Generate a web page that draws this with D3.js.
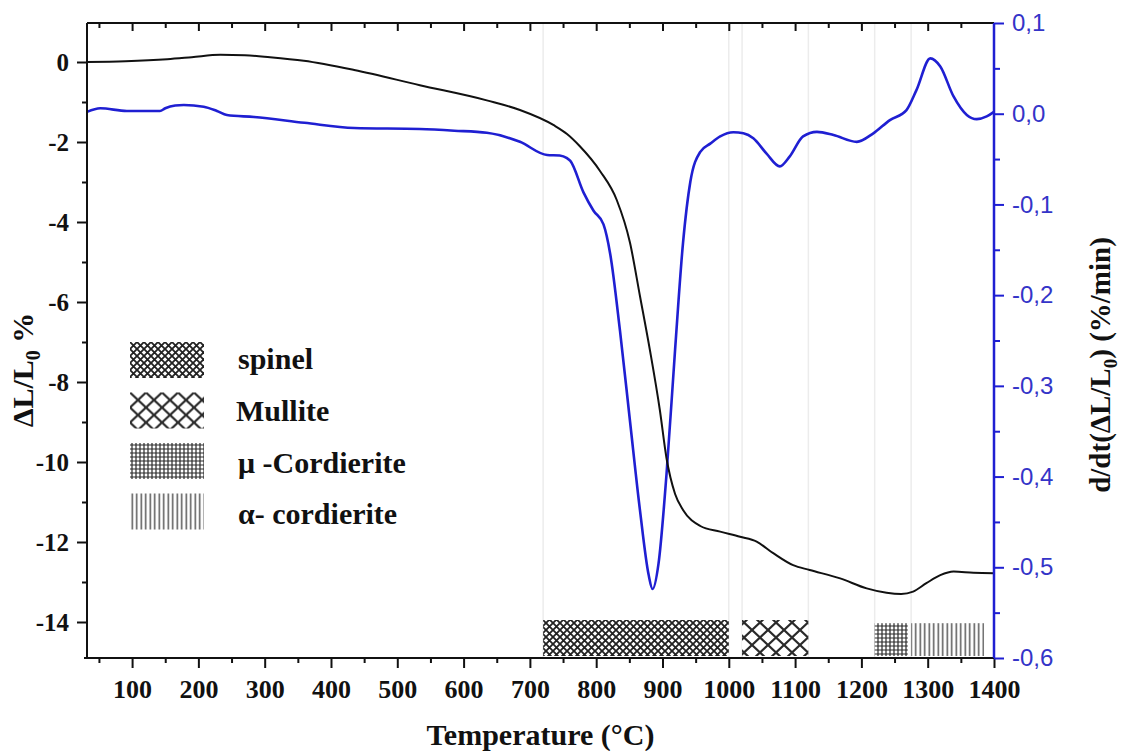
<!DOCTYPE html>
<html>
<head>
<meta charset="utf-8">
<script src="https://cdn.jsdelivr.net/npm/d3@7"></script>
<style>
  body { margin: 0; background: #fff; }
  svg text { font-family: "Liberation Serif", "Times New Roman", serif; font-weight: bold; }
</style>
</head>
<body>
<div id="chart"></div>
<script>
// dilatometry: relative shrinkage dL/L0 (%) vs temperature
const shrinkTemp = [32, 90, 153, 190, 233, 270, 308, 359, 435, 534, 635, 685, 736, 756, 775, 806, 831, 851, 866, 881, 896, 906, 919, 931, 957, 987, 1017, 1042, 1067, 1097, 1122, 1168, 1208, 1238, 1260, 1278, 1298, 1319, 1339, 1369, 1400];
const shrinkVal  = [0, 0.02, 0.07, 0.12, 0.18, 0.17, 0.12, 0.03, -0.2, -0.58, -0.96, -1.2, -1.58, -1.8, -2.1, -2.73, -3.45, -4.52, -5.85, -7.2, -8.7, -9.9, -10.8, -11.2, -11.6, -11.74, -11.87, -11.99, -12.28, -12.58, -12.7, -12.91, -13.16, -13.27, -13.3, -13.24, -13.03, -12.83, -12.74, -12.77, -12.78];

// shrinkage rate d/dt(dL/L0) (%/min)
const rateTemp = [32, 52, 92, 142, 150, 165, 178, 208, 228, 243, 284, 360, 435, 534, 586, 635, 685, 726, 745, 756, 761, 781, 796, 811, 821, 836, 851, 866, 879, 885, 894, 906, 919, 931, 942, 957, 972, 987, 1007, 1022, 1037, 1057, 1077, 1092, 1112, 1133, 1158, 1193, 1218, 1243, 1268, 1283, 1304, 1319, 1339, 1359, 1374, 1389, 1400];
const rateVal  = [0.002, 0.006, 0.003, 0.003, 0.006, 0.009, 0.0096, 0.0077, 0.003, -0.0014, -0.0036, -0.01, -0.0158, -0.0169, -0.0187, -0.021, -0.031, -0.0455, -0.046, -0.049, -0.052, -0.087, -0.107, -0.122, -0.154, -0.24, -0.339, -0.437, -0.508, -0.524, -0.496, -0.398, -0.26, -0.142, -0.075, -0.042, -0.033, -0.025, -0.0205, -0.0216, -0.027, -0.044, -0.058, -0.047, -0.025, -0.02, -0.0235, -0.031, -0.0216, -0.007, 0.004, 0.026, 0.061, 0.052, 0.019, -0.0014, -0.006, -0.003, 0.002];

// crystalline phases (temperature ranges)
const phaseNames = ["spinel", "Mullite", "μ -Cordierite", "α- cordierite"];
const phaseIds = ["spinel", "mullite", "muCord", "alphaCord"];
const phaseStart = [720, 1020, 1220, 1275];
const phaseEnd = [1000, 1120, 1270, 1385];
const guideTemps = [720, 1000, 1020, 1120, 1220, 1275];

const xTicks = d3.range(100, 1401, 100);
const xMinor = d3.range(50, 1400, 100);
const leftTicks = d3.range(0, -15, -2);
const leftMinor = d3.range(-1, -15, -2);
const rightTicks = d3.range(-6, 2).map(d => d / 10);
const rightMinor = d3.range(-11, 2, 2).map(d => d / 20);

const width = 1121, height = 751;
const margin = { top: 23, right: 127, bottom: 93, left: 87 };
const blue = "#1f1fd2";

const svg = d3.select("#chart").append("svg")
    .attr("width", width)
    .attr("height", height)
    .style("background", "#fff");

const x = d3.scaleLinear().domain([32, 1400]).range([margin.left, width - margin.right]);
const yL = d3.scaleLinear().domain([-14.9, 0.975]).range([height - margin.bottom, margin.top]);
const yR = d3.scaleLinear().domain([-0.6, 0.1]).range([height - margin.bottom, margin.top]);

const x0 = margin.left, x1 = width - margin.right;
const y0 = margin.top, y1 = height - margin.bottom;

// hatch patterns
const defs = svg.append("defs");
function addPattern(id, w, h, d, stroke, sw) {
    const p = defs.append("pattern")
        .attr("id", id)
        .attr("patternUnits", "userSpaceOnUse")
        .attr("width", w)
        .attr("height", h);
    p.append("rect").attr("width", w).attr("height", h).attr("fill", "#fff");
    p.append("path").attr("d", d).attr("fill", "none")
        .attr("stroke", stroke).attr("stroke-width", sw);
}
addPattern("spinel", 7, 7, "M-1,-1L8,8M8,-1L-1,8", "#222", 1.8);
addPattern("mullite", 16, 15, "M-2,-1.875L18,16.875M18,-1.875L-2,16.875", "#2a2a2a", 2.2);
addPattern("muCord", 4, 4, "M0,2H4M2,0V4", "#2a2a2a", 1.2);
addPattern("alphaCord", 4.5, 10, "M2.25,0V10", "#555", 1.5);

// faint vertical guides
svg.append("g")
    .selectAll("line")
    .data(guideTemps)
    .join("line")
    .attr("x1", d => x(d)).attr("x2", d => x(d))
    .attr("y1", y0).attr("y2", y1)
    .attr("stroke", "#ececec")
    .attr("stroke-width", 1.5);

// phase bars along the bottom
svg.append("g")
    .selectAll("rect")
    .data(phaseIds)
    .join("rect")
    .attr("x", (d, i) => x(phaseStart[i]))
    .attr("width", (d, i) => x(phaseEnd[i]) - x(phaseStart[i]))
    .attr("y", (d, i) => yL(i < 2 ? -13.95 : -14.03))
    .attr("height", (d, i) => yL(-14.85) - yL(i < 2 ? -13.95 : -14.03))
    .attr("fill", d => `url(#${d})`);

// curves
const shrinkData = shrinkTemp.map((t, i) => [t, shrinkVal[i]]);
const rateData = rateTemp.map((t, i) => [t, rateVal[i]]);

svg.append("path")
    .datum(rateData)
    .attr("fill", "none")
    .attr("stroke", blue)
    .attr("stroke-width", 2.6)
    .attr("d", d3.line().x(d => x(d[0])).y(d => yR(d[1])).curve(d3.curveMonotoneX));

svg.append("path")
    .datum(shrinkData)
    .attr("fill", "none")
    .attr("stroke", "#111")
    .attr("stroke-width", 2)
    .attr("d", d3.line().x(d => x(d[0])).y(d => yL(d[1])).curve(d3.curveMonotoneX));

// axes
function styleAxis(g, color) {
    g.select(".domain").remove();
    g.selectAll(".tick line").attr("stroke", color).attr("stroke-width", 2);
}

// bottom
svg.append("g")
    .attr("transform", `translate(0,${y1})`)
    .call(d3.axisBottom(x).tickValues(xMinor).tickSize(5).tickFormat(""))
    .call(g => styleAxis(g, "#111"));
svg.append("g")
    .attr("transform", `translate(0,${y1})`)
    .call(d3.axisBottom(x).tickValues(xTicks).tickSize(10).tickPadding(12).tickFormat(d => d))
    .call(g => styleAxis(g, "#111"))
    .call(g => g.selectAll("text").attr("fill", "#111").style("font-size", "26px"));

// top (ticks inward)
svg.append("g")
    .attr("transform", `translate(0,${y0})`)
    .call(d3.axisBottom(x).tickValues(xMinor).tickSize(5).tickFormat(""))
    .call(g => styleAxis(g, "#111"));
svg.append("g")
    .attr("transform", `translate(0,${y0})`)
    .call(d3.axisBottom(x).tickValues(xTicks.slice(0, -1)).tickSize(8).tickFormat(""))
    .call(g => styleAxis(g, "#111"));

// left
svg.append("g")
    .attr("transform", `translate(${x0},0)`)
    .call(d3.axisLeft(yL).tickValues(leftMinor).tickSize(5).tickFormat(""))
    .call(g => styleAxis(g, "#111"));
svg.append("g")
    .attr("transform", `translate(${x0},0)`)
    .call(d3.axisLeft(yL).tickValues(leftTicks).tickSize(10).tickPadding(8).tickFormat(d => String(d)))
    .call(g => styleAxis(g, "#111"))
    .call(g => g.selectAll("text").attr("fill", "#111").style("font-size", "25px"));

// right (blue)
svg.append("g")
    .attr("transform", `translate(${x1},0)`)
    .call(d3.axisRight(yR).tickValues(rightMinor).tickSize(6).tickFormat(""))
    .call(g => styleAxis(g, blue));
svg.append("g")
    .attr("transform", `translate(${x1},0)`)
    .call(d3.axisRight(yR).tickValues(rightTicks).tickSize(10).tickPadding(8)
        .tickFormat(d => (Math.round(d * 10) / 10).toFixed(1).replace(".", ",")))
    .call(g => styleAxis(g, blue))
    .call(g => g.selectAll("text")
        .attr("fill", "#3434c8")
        .style("font-family", "'Liberation Sans', Arial, sans-serif")
        .style("font-weight", "normal")
        .style("font-size", "24px"));

// frame lines
svg.append("line").attr("x1", x0 - 3).attr("x2", x1).attr("y1", y1).attr("y2", y1)
    .attr("stroke", "#111").attr("stroke-width", 2);
svg.append("line").attr("x1", x0).attr("x2", x1).attr("y1", y0).attr("y2", y0)
    .attr("stroke", "#111").attr("stroke-width", 2);
svg.append("line").attr("x1", x0).attr("x2", x0).attr("y1", y0).attr("y2", y1)
    .attr("stroke", "#111").attr("stroke-width", 2);
svg.append("line").attr("x1", x1).attr("x2", x1).attr("y1", y0).attr("y2", y1)
    .attr("stroke", blue).attr("stroke-width", 2.5);

// axis titles
svg.append("text")
    .attr("x", (x0 + x1) / 2)
    .attr("y", 745)
    .attr("text-anchor", "middle")
    .style("font-size", "30px")
    .attr("fill", "#111")
    .text("Temperature (°C)");

const leftTitle = svg.append("text")
    .attr("transform", "translate(33,370) rotate(-90)")
    .attr("text-anchor", "middle")
    .style("font-size", "30px")
    .attr("fill", "#111");
leftTitle.append("tspan").text("ΔL/L");
leftTitle.append("tspan").attr("dy", 7).style("font-size", "20px").text("0");
leftTitle.append("tspan").attr("dy", -7).text(" %");

const rightTitle = svg.append("text")
    .attr("transform", "translate(1110,365) rotate(-90)")
    .attr("text-anchor", "middle")
    .style("font-size", "29px")
    .attr("fill", "#111");
rightTitle.append("tspan").text("d/dt(ΔL/L");
rightTitle.append("tspan").attr("dy", 7).style("font-size", "19px").text("0");
rightTitle.append("tspan").attr("dy", -7).text(") (%/min)");

// legend
const legend = svg.append("g").attr("transform", "translate(130,342)");
const rows = legend.selectAll("g")
    .data(phaseIds)
    .join("g")
    .attr("transform", (d, i) => `translate(0,${i * 50.5})`);
rows.append("rect")
    .attr("width", 74)
    .attr("height", 36)
    .attr("fill", d => `url(#${d})`);
rows.append("text")
    .attr("x", (d, i) => i === 1 ? 106 : 108)
    .attr("y", (d, i) => 27 + i * 1.3)
    .style("font-size", "30px")
    .attr("fill", "#111")
    .text((d, i) => phaseNames[i]);
</script>
</body>
</html>
